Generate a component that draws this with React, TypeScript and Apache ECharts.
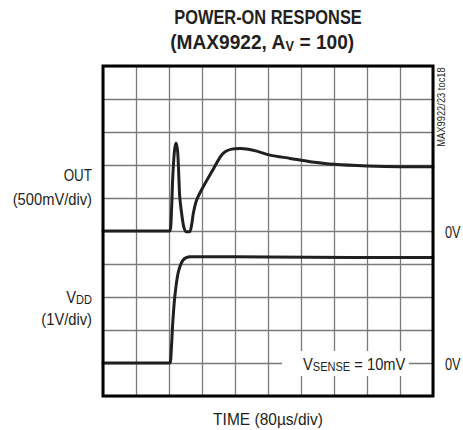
import React, { useEffect, useRef } from "react";
import * as echarts from "echarts";

// Time axis: 80 µs/div, 10 divisions
const timeMin = 0;
const timeMax = 800;
const timeStep = 80;

// OUT channel: 500 mV/div, 0 V at 5th division from bottom
const outMin = -2.5;
const outMax = 2.5;
const outStep = 0.5;

// VDD channel: 1 V/div, 0 V at 1st division from bottom
const vddMin = -1;
const vddMax = 9;
const vddStep = 1;

// OUT trace (µs, V)
const outTime = [0, 60, 120, 155, 162, 166, 169, 173, 177, 181, 184, 186, 191, 196, 202, 210, 215, 219, 227, 243, 264, 284, 296, 312, 332, 352, 373, 405, 454, 502, 560, 640, 720, 800];
const outVolts = [0, 0, 0, 0, 0, 0.3, 0.8, 1.2, 1.335, 1.2, 0.8, 0.52, 0.25, 0.06, -0.01, -0.01, 0.1, 0.27, 0.47, 0.67, 0.9, 1.12, 1.2, 1.24, 1.25, 1.24, 1.21, 1.15, 1.1, 1.05, 1.01, 0.985, 0.975, 0.975];

// VDD trace (µs, V)
const vddTime = [0, 60, 120, 155, 162, 166, 169, 174, 182, 194, 211, 240, 400, 600, 800];
const vddVolts = [0, 0, 0, 0, 0, 0.5, 1.2, 2.0, 2.72, 3.12, 3.22, 3.22, 3.21, 3.2, 3.2];

const FONT = '"Liberation Sans", Arial, Helvetica, sans-serif';
const INK = "#231f20";
const LABEL_SIZE = 16;
const LABEL_SCALE = 0.92;

function label(text: string, x: number, y: number, align: string, extra: any = {}, scale: number = LABEL_SCALE) {
  return {
    type: "text",
    z: 110,
    x,
    y,
    scaleX: scale,
    style: { text, x: 0, y: 0, textAlign: align, textVerticalAlign: "middle", fontSize: LABEL_SIZE, fontFamily: FONT, fill: INK, ...extra },
  };
}

export default function App() {
  const ref = useRef<HTMLDivElement>(null);
  useEffect(() => {
    if (!ref.current) return;
    const chart = echarts.init(ref.current, null, { renderer: "svg" });
    const outData = outTime.map((t, i) => [t, outVolts[i]]);
    const vddData = vddTime.map((t, i) => [t, vddVolts[i]]);
    const main = { fontSize: LABEL_SIZE, fontFamily: FONT, fill: INK, lineHeight: 18, verticalAlign: "middle" };
    const sub = { fontSize: 12, fontFamily: FONT, fill: INK, lineHeight: 12, verticalAlign: "bottom" };
    const axisCommon = {
      axisLine: { show: false },
      axisTick: { show: false },
      axisLabel: { show: false },
    };
    chart.setOption({
      animation: false,
      backgroundColor: "#fff",
      grid: { left: 103, top: 66, width: 330, height: 330, show: false },
      xAxis: {
        type: "value",
        min: timeMin,
        max: timeMax,
        interval: timeStep,
        ...axisCommon,
        splitLine: { show: true, lineStyle: { color: "#7a7a7a", width: 1.3 } },
      },
      yAxis: [
        {
          type: "value",
          min: outMin,
          max: outMax,
          interval: outStep,
          ...axisCommon,
          splitLine: { show: true, lineStyle: { color: "#7a7a7a", width: 1.3 } },
        },
        {
          type: "value",
          min: vddMin,
          max: vddMax,
          interval: vddStep,
          ...axisCommon,
          splitLine: { show: false },
        },
      ],
      series: [
        {
          name: "OUT",
          type: "line",
          yAxisIndex: 0,
          data: outData,
          showSymbol: false,
          smooth: 0.3,
          lineStyle: { color: INK, width: 3, join: "round", cap: "round" },
          z: 5,
        },
        {
          name: "VDD",
          type: "line",
          yAxisIndex: 1,
          data: vddData,
          showSymbol: false,
          smooth: 0.3,
          lineStyle: { color: INK, width: 3, join: "round", cap: "round" },
          z: 5,
        },
      ],
      graphic: [
        {
          type: "rect",
          z: 100,
          shape: { x: 103, y: 66, width: 330, height: 330 },
          style: { fill: "none", stroke: "#000", lineWidth: 3 },
        },
        {
          type: "rect",
          z: 90,
          shape: { x: 282, y: 351, width: 127, height: 25 },
          style: { fill: "#fff" },
        },
        label("", 303, 364, "left", { text: "{m|V}{s|SENSE}{m| = 10mV}", rich: { m: main, s: sub } }),
        {
          type: "text",
          z: 110,
          x: 268,
          y: 17,
          scaleX: 0.78,
          style: { text: "POWER-ON RESPONSE", x: 0, y: 0, textAlign: "center", textVerticalAlign: "middle", fontSize: 21, fontWeight: "bold", fontFamily: FONT, fill: INK },
        },
        {
          type: "text",
          z: 110,
          x: 262,
          y: 42,
          scaleX: 0.91,
          style: {
            text: "{b|(MAX9922, A}{s|V}{b| = 100)}",
            x: 0,
            y: 0,
            textAlign: "center",
            textVerticalAlign: "middle",
            rich: {
              b: { fontSize: 21, fontWeight: "bold", fontFamily: FONT, fill: INK, lineHeight: 23, verticalAlign: "middle" },
              s: { fontSize: 14, fontWeight: "bold", fontFamily: FONT, fill: INK, lineHeight: 14, verticalAlign: "bottom" },
            },
          },
        },
        label("OUT", 92, 176, "right", {}, 0.84),
        label("(500mV/div)", 92, 199, "right"),
        label("", 92, 297, "right", { text: "{m|V}{s|DD}", rich: { m: main, s: sub } }),
        label("(1V/div)", 92, 319, "right"),
        label("0V", 445, 232, "left", {}, 0.8),
        label("0V", 445, 364, "left", {}, 0.8),
        label("TIME (80µs/div)", 268, 419, "center", {}, 0.97),
        {
          type: "text",
          z: 110,
          x: 441,
          y: 107,
          rotation: Math.PI / 2,
          scaleX: 0.85,
          style: { text: "MAX9922/23 toc18", x: 0, y: 0, textAlign: "center", textVerticalAlign: "middle", fontSize: 11, fontFamily: FONT, fill: INK },
        },
      ],
    });
    return () => chart.dispose();
  }, []);
  return <div ref={ref} style={{ position: "absolute", left: 0, top: 0, width: 463, height: 430 }} />;
}
